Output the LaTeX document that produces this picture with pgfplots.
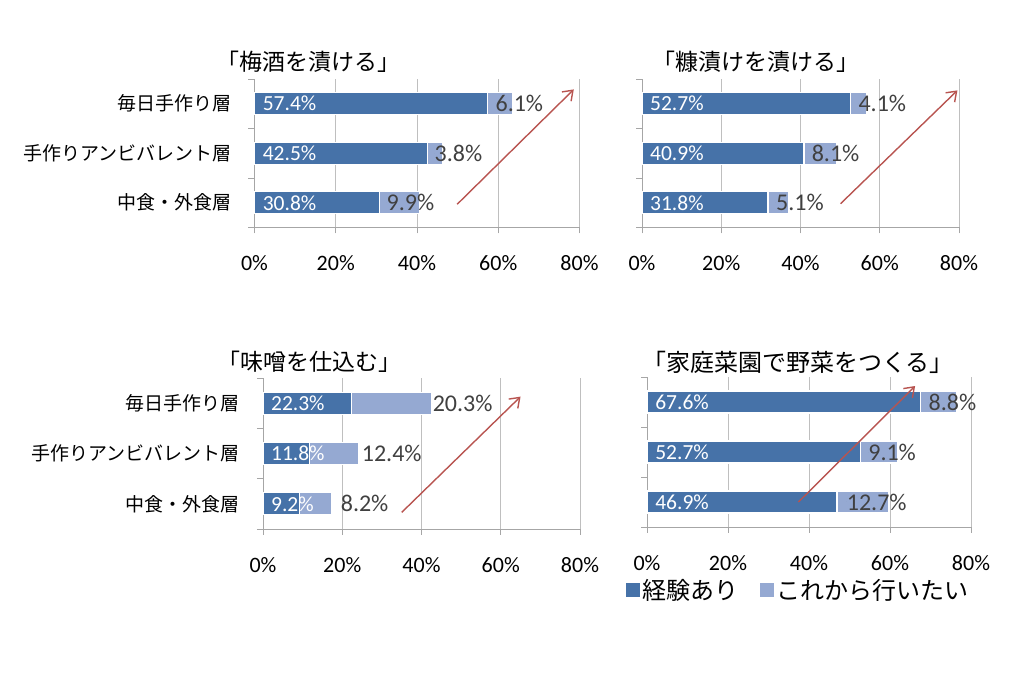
\documentclass[border=0pt]{standalone}
\usepackage{pgfplots}
\pgfplotsset{compat=1.18}
\usepackage{fontspec}
\setmainfont{Carlito}
\newfontfamily\jp{Noto Sans CJK JP}
\usetikzlibrary{arrows.meta}
\definecolor{darkbar}{HTML}{4672A8}
\definecolor{lightbar}{HTML}{95A9D2}
\definecolor{axisgray}{HTML}{A6A6A6}
\definecolor{gridgray}{HTML}{BFBFBF}
\definecolor{arrowred}{HTML}{B85450}
\definecolor{labgray}{HTML}{404040}
\newcommand{\fsTick}{\fontsize{22bp}{26bp}\selectfont}
\newcommand{\fsCat}{\jp\fontsize{19bp}{23bp}\selectfont}
\newcommand{\fsTitle}{\jp\fontsize{23bp}{27bp}\selectfont}
\newcommand{\fsTitleB}{\jp\fontsize{24bp}{28bp}\selectfont}
\newcommand{\fsIn}{\fontsize{21.5bp}{25bp}\selectfont}
\newcommand{\fsOut}{\fontsize{24bp}{28bp}\selectfont}
\newcommand{\fsLeg}{\jp\fontsize{24bp}{28bp}\selectfont}
\tikzset{arr/.style={draw=arrowred, line width=1.4bp, -{Straight Barb[length=9bp, width=13bp, line width=1.4bp]}}}
\pgfplotsset{
  panel/.style={
    scale only axis, clip=false,
    xmin=0, xmax=80, ymin=-0.5, ymax=2.5,
    axis lines*=left,
    axis line style={draw=axisgray, line width=0.9bp},
    xtick={0,20,40,60,80},
    xticklabels={0\%,20\%,40\%,60\%,80\%},
    xticklabel style={font=\fsTick, inner sep=0pt, anchor=north, yshift=-22bp},
    xmajorgrids, grid style={draw=gridgray, line width=0.9bp},
    tick align=outside, major tick length=6bp,
    tick style={draw=axisgray, line width=0.9bp},
    ytick={-0.5,0.5,1.5,2.5}, yticklabels={,,,},
  },
  cats/.style={
    extra y ticks={0,1,2},
    extra y tick labels={{\fsCat 中食・外食層},{\fsCat 手作りアンビバレント層},{\fsCat 毎日手作り層}},
    extra y tick style={major tick length=0pt, yticklabel style={inner sep=0pt, anchor=east, xshift=-23bp}},
  },
  barL/.style={xbar, bar width=22bp, bar shift=0pt, fill=lightbar, draw=white, line width=1.2bp, forget plot},
  barD/.style={xbar, bar width=22bp, bar shift=0pt, fill=darkbar, draw=white, line width=1.2bp, forget plot},
  labIn/.style={only marks, mark=*, mark size=0pt, mark options={draw=none, fill=none},
    nodes near coords, point meta=explicit symbolic, forget plot,
    nodes near coords style={anchor=west, inner sep=0pt, font=\fsIn, text=white}},
  labOut/.style={only marks, mark=*, mark size=0pt, mark options={draw=none, fill=none},
    nodes near coords, point meta=explicit symbolic, forget plot,
    nodes near coords style={anchor=west, inner sep=0pt, font=\fsOut, text=labgray}},
}
\begin{document}
\begin{tikzpicture}
\useasboundingbox (0,0) rectangle (1016bp,694bp);

% Panel 1
\begin{axis}[panel, cats, at={(254.5bp,466.5bp)}, anchor=south west, width=325bp, height=148.5bp]
\addplot[barL] coordinates {(40.7,0) (46.3,1) (63.5,2)};
\addplot[barD] coordinates {(30.8,0) (42.5,1) (57.4,2)};
\addplot[labIn] coordinates {(2,0) [30.8\%] (2,1) [42.5\%] (2,2) [57.4\%]};
\addplot[labOut] coordinates {(32.5,0) [9.9\%] (44.3,1) [3.8\%] (59.3,2) [6.1\%]};
\draw[arr] (axis cs:49.9,-0.03) -- (axis cs:78.6,2.29);
\end{axis}

% Panel 2
\begin{axis}[panel, at={(642bp,466.5bp)}, anchor=south west, width=317bp, height=148.5bp]
\addplot[barL] coordinates {(36.9,0) (49.0,1) (56.8,2)};
\addplot[barD] coordinates {(31.8,0) (40.9,1) (52.7,2)};
\addplot[labIn] coordinates {(2,0) [31.8\%] (2,1) [40.9\%] (2,2) [52.7\%]};
\addplot[labOut] coordinates {(33.8,0) [5.1\%] (42.8,1) [8.1\%] (54.6,2) [4.1\%]};
\draw[arr] (axis cs:50.1,-0.02) -- (axis cs:79.6,2.27);
\end{axis}

% Panel 3
\begin{axis}[panel, cats, at={(263bp,165bp)}, anchor=south west, width=317bp, height=151bp]
\addplot[barL] coordinates {(17.4,0) (24.2,1) (42.6,2)};
\addplot[barD] coordinates {(9.2,0) (11.8,1) (22.3,2)};
\addplot[labIn] coordinates {(2,0) [9.2\%] (2,1) [11.8\%] (2,2) [22.3\%]};
\addplot[labOut] coordinates {(19.6,0) [8.2\%] (24.9,1) [12.4\%] (42.8,2) [20.3\%]};
\draw[arr] (axis cs:35.0,-0.17) -- (axis cs:65.0,2.13);
\end{axis}

% Panel 4
\begin{axis}[panel, at={(647bp,167bp)}, anchor=south west, width=324bp, height=150bp,
  legend image code/.code={\draw[#1, draw=none] (0bp,-7bp) rectangle (14bp,7bp);},
  legend style={at={(axis description cs:-0.065,-0.42)}, anchor=west, draw=none, fill=none,
    font=\fsLeg, legend columns=2, inner sep=0pt,
    /tikz/every even column/.append style={column sep=20bp}},
  legend cell align=left]
\addlegendimage{fill=darkbar}
\addlegendimage{fill=lightbar}
\addplot[barL] coordinates {(59.6,0) (61.8,1) (76.4,2)};
\addplot[barD] coordinates {(46.9,0) (52.7,1) (67.6,2)};
\addplot[labIn] coordinates {(2,0) [46.9\%] (2,1) [52.7\%] (2,2) [67.6\%]};
\addplot[labOut] coordinates {(49.3,0) [12.7\%] (54.6,1) [9.1\%] (69.5,2) [8.8\%]};
\draw[arr] (axis cs:37.4,0.0) -- (axis cs:66.2,2.32);
\legend{経験あり, これから行いたい}
\end{axis}

\node[font=\fsTitle] at (308bp,632bp) {「梅酒を漬ける」};
\node[font=\fsTitle] at (756bp,632bp) {「糠漬けを漬ける」};
\node[font=\fsTitle] at (309bp,332bp) {「味噌を仕込む」};
\node[font=\fsTitleB] at (798bp,332bp) {「家庭菜園で野菜をつくる」};
\end{tikzpicture}
\end{document}
